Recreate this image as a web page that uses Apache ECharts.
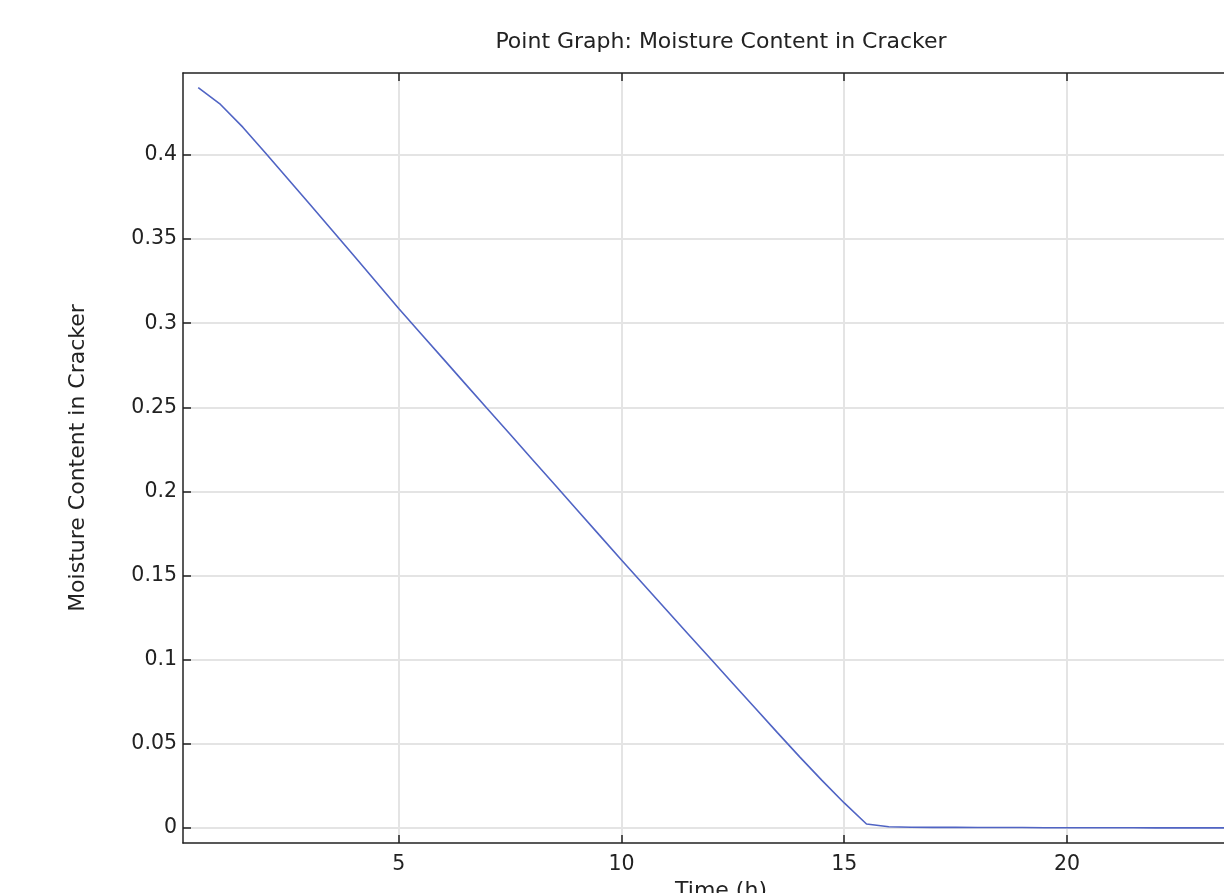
<!DOCTYPE html>
<html>
<head>
<meta charset="utf-8">
<script src="https://cdn.jsdelivr.net/npm/echarts@6/dist/echarts.min.js"></script>
<style>
html,body{margin:0;padding:0;background:#fff;overflow:hidden;}
#chart{width:1224px;height:893px;}
</style>
</head>
<body>
<div id="chart"></div>
<script>
const titleText = 'Point Graph: Moisture Content in Cracker';
const xName = 'Time (h)';
const yName = 'Moisture Content in Cracker';
const timeH = [0.5,1.0,1.5,2.0,2.5,3.0,3.5,4.0,4.5,5.0,5.5,6.0,6.5,7.0,7.5,8.0,8.5,9.0,9.5,10.0,10.5,11.0,11.5,12.0,12.5,13.0,13.5,14.0,14.5,15.0,15.5,16.0,16.5,17.0,17.5,18.0,18.5,19.0,19.5,20.0,20.5,21.0,21.5,22.0,22.5,23.0,23.5,24.0];
const moisture = [0.4400,0.4300,0.4165,0.4015,0.3862,0.3708,0.3554,0.3400,0.3244,0.3087,0.2937,0.2788,0.2638,0.2489,0.2340,0.2190,0.2041,0.1892,0.1742,0.1593,0.1446,0.1299,0.1152,0.1006,0.0859,0.0713,0.0567,0.0423,0.0283,0.0149,0.0024,0.0008,0.0005,0.0004,0.0004,0.0003,0.0003,0.0003,0.0002,0.0002,0.0002,0.0002,0.0002,0.0001,0.0001,0.0001,0.0001,0.0001];
const xTicks = [5,10,15,20];
const yTicks = [0,0.05,0.1,0.15,0.2,0.25,0.3,0.35,0.4];
const xRange = [0.158, 24.31];
const yRange = [-0.0089, 0.4487];

const font = 'DejaVu Sans';
const axisColor = '#222';
const gridColor = '#e4e4e4';
const labelSize = 20.5;
const nameSize = 22;

function xAxisDef(pos, showLabel, name) {
  return {
    type: 'value', position: pos, min: xRange[0], max: xRange[1],
    name: name || '', nameLocation: 'middle', nameGap: 30,
    nameTextStyle: {fontFamily: font, fontSize: nameSize, color: '#222'},
    axisLine: {show: true, onZero: false, lineStyle: {color: axisColor, width: 1.5}},
    axisTick: {show: true, inside: true, length: 8, customValues: xTicks, lineStyle: {color: axisColor, width: 1.5}},
    axisLabel: {show: showLabel, customValues: xTicks, fontFamily: font, fontSize: labelSize, color: '#222', margin: 11},
    splitLine: {show: showLabel, lineStyle: {color: gridColor, width: 2}}
  };
}
function yAxisDef(pos, showLabel, name) {
  return {
    type: 'value', position: pos, min: yRange[0], max: yRange[1],
    name: name || '', nameLocation: 'middle', nameGap: 94,
    nameTextStyle: {fontFamily: font, fontSize: nameSize, color: '#222'},
    axisLine: {show: true, onZero: false, lineStyle: {color: axisColor, width: 1.5}},
    axisTick: {show: true, inside: true, length: 8, customValues: yTicks, lineStyle: {color: axisColor, width: 1.5}},
    axisLabel: {show: showLabel, customValues: yTicks, fontFamily: font, fontSize: labelSize, color: '#222', margin: 6,
      formatter: v => String(Math.round(v * 100) / 100)},
    splitLine: {show: showLabel, lineStyle: {color: gridColor, width: 2}}
  };
}

const chart = echarts.init(document.getElementById('chart'));
chart.setOption({
  animation: false,
  backgroundColor: '#fff',
  title: {text: titleText, left: 716, top: 26, textAlign: 'center',
    textStyle: {fontFamily: font, fontSize: nameSize, fontWeight: 'normal', color: '#222'}},
  grid: {left: 183, top: 73, width: 1076, height: 770, containLabel: false, outerBoundsMode: 'none'},
  xAxis: [xAxisDef('bottom', true, xName), xAxisDef('top', false)],
  yAxis: [yAxisDef('left', true, yName), yAxisDef('right', false)],
  series: [{
    type: 'line', xAxisIndex: 0, yAxisIndex: 0,
    data: timeH.map((t, i) => [t, moisture[i]]),
    showSymbol: false, symbol: 'none',
    lineStyle: {color: '#5064c4', width: 1.6},
    z: 5
  }]
});
</script>
</body>
</html>
